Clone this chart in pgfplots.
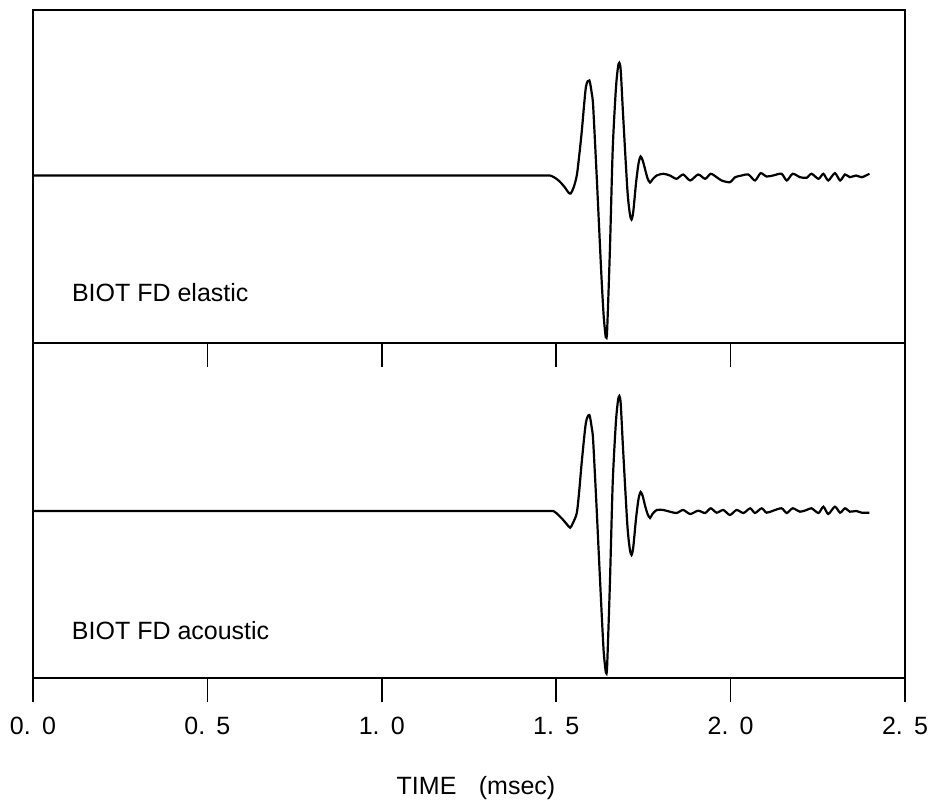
\documentclass[border=0pt]{standalone}
\usepackage{fontspec}
\setmainfont{Liberation Sans}
\usepackage{pgfplots}
\pgfplotsset{compat=1.18}
\pgfplotstableread{
t a
0.000 0
0.400 0
0.800 0
1.200 0
1.350 0
1.420 0
1.450 0
1.470 0
1.482 0
1.495 -2
1.510 -6
1.525 -12
1.535 -17
1.5415 -18
1.550 -12
1.559 0
1.566 20
1.573 43
1.585 88
1.595 95
1.602 82
1.606 69
1.616 0
1.621 -37
1.630 -103
1.636 -140
1.641 -159
1.643 -162
1.646 -155
1.654 -74
1.662 26
1.671 86
1.677 108
1.681 112.7
1.685 105
1.692 59
1.704 -14
1.711 -38
1.716 -44
1.721 -36
1.729 -7
1.736 12
1.742 19
1.748 15
1.755 6
1.762 -3
1.769 -7
1.776 -4
1.788 0
1.807 1.7
1.826 0
1.845 -3.3
1.864 1
1.884 -5
1.907 1
1.927 -3.3
1.943 1.7
1.960 -1.7
1.974 -5
1.998 -6.7
2.013 -1.7
2.032 0
2.051 1
2.070 -5
2.086 2.3
2.103 -1
2.122 0
2.146 1.7
2.161 -5
2.178 1.7
2.199 -1.7
2.218 -2.3
2.232 1.7
2.252 -3.3
2.266 1.7
2.280 -5
2.299 2.3
2.314 -5
2.328 1
2.342 -1.7
2.360 0
2.376 -1.7
2.398 1.7
}\elastic
\pgfplotstableread{
t a
0.000 0
0.400 0
0.800 0
1.200 0
1.350 0
1.430 0
1.460 0
1.480 0
1.491 0
1.500 -2
1.515 -7
1.530 -13
1.540 -16.7
1.548 -12
1.559 -2
1.566 20
1.573 48
1.585 88
1.595 96
1.602 83
1.606 70
1.616 2
1.621 -35
1.630 -100
1.636 -140
1.641 -158
1.643 -162
1.646 -155
1.654 -72
1.662 28
1.671 88
1.677 110
1.681 115
1.685 107
1.692 60
1.704 -14
1.711 -38
1.716 -44
1.721 -36
1.729 -7
1.736 12
1.742 19
1.748 15
1.755 5
1.762 -3
1.769 -7
1.776 -3
1.788 1
1.807 1
1.826 -0.7
1.845 -2
1.864 1
1.884 -3
1.907 0.3
1.927 -2
1.943 2.7
1.960 -1.7
1.979 1
1.998 -4
2.017 1
2.037 -2
2.056 2.7
2.070 -2
2.089 2.7
2.103 -1.7
2.122 0.3
2.146 2.7
2.161 -2
2.178 2.7
2.199 -0.7
2.218 1
2.232 2.7
2.252 -2
2.266 4.3
2.280 -3
2.299 4.3
2.314 -1.7
2.328 2.7
2.342 -0.7
2.360 0
2.376 -1.7
2.398 -1.7
}\acoustic
\begin{document}
\begin{tikzpicture}
\path[use as bounding box] (0,0) rectangle (468pt,403.5pt);
\pgfplotsset{
  panel/.style={
    scale only axis,
    width=436pt,
    xmin=0, xmax=2.5,
    axis line style={line width=0.9pt},
    ytick=\empty,
    xtick={0,0.5,1,1.5,2,2.5},
    xtick pos=bottom,
    tick align=outside,
    major tick length=12pt,
    tick style={line width=0.8pt,black},
    clip=false,
  }
}
\begin{axis}[panel,
  at={(16.5pt,232pt)}, anchor=south west,
  height=166.5pt,
  ymin=-167.5, ymax=165.5,
  xticklabels={},
]
\addplot[black, line width=1.1pt, smooth, tension=0.45] table[x=t,y=a] {\elastic};
\node[anchor=base west, inner sep=0pt, font=\fontsize{12.5}{15}\selectfont]
  at (rel axis cs:0,0) [xshift=19.3pt, yshift=20.6pt] {BIOT FD elastic};
\end{axis}
\begin{axis}[panel,
  at={(16.5pt,64.5pt)}, anchor=south west,
  height=167.5pt,
  ymin=-167, ymax=168,
  xticklabels={0.\hspace{0.45em}0,0.\hspace{0.45em}5,1.\hspace{0.45em}0,1.\hspace{0.45em}5,2.\hspace{0.45em}0,2.\hspace{0.45em}5},
  xticklabel style={font=\fontsize{12.5}{14}\selectfont, yshift=-4pt},
]
\addplot[black, line width=1.1pt, smooth, tension=0.45] table[x=t,y=a] {\acoustic};
\node[anchor=base west, inner sep=0pt, font=\fontsize{12.5}{15}\selectfont]
  at (rel axis cs:0,0) [xshift=19.3pt, yshift=19pt] {BIOT FD acoustic};
\end{axis}
\node[anchor=base, inner sep=0pt, font=\fontsize{12.5}{15}\selectfont] at (238pt,6pt) {TIME\hspace{0.9em}(msec)};
\end{tikzpicture}
\end{document}
